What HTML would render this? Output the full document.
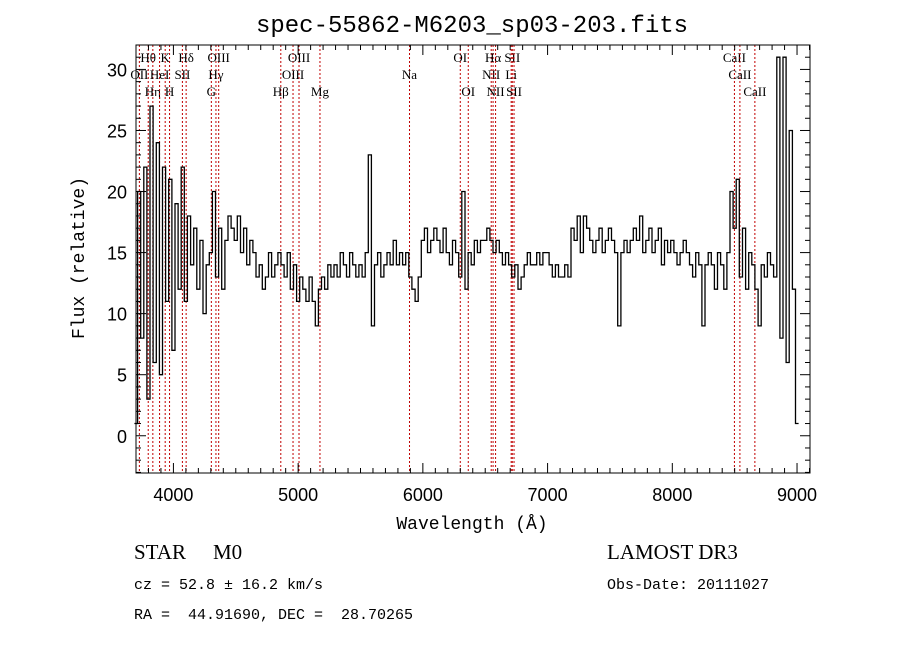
<!DOCTYPE html>
<html><head><meta charset="utf-8"><style>
body{margin:0;background:#fff;}
svg{display:block;}
</style></head><body>
<svg id="chart" width="900" height="649" xmlns="http://www.w3.org/2000/svg">
<rect width="900" height="649" fill="#fff"/>
<text x="472" y="32" font-family="Liberation Mono, monospace" font-size="24" text-anchor="middle">spec-55862-M6203_sp03-203.fits</text>
<text x="472" y="529" font-family="Liberation Mono, monospace" font-size="18" text-anchor="middle">Wavelength (Å)</text>
<text transform="translate(84,258) rotate(-90)" font-family="Liberation Mono, monospace" font-size="18" text-anchor="middle">Flux (relative)</text>
<g id="lines"></g><g id="ticks"></g>
<polyline id="spec" fill="none" stroke="#000" stroke-width="1.3"/>
<rect x="136" y="45" width="674" height="428" fill="none" stroke="#000" stroke-width="1"/>
<text x="134" y="559" font-family="Liberation Serif, serif" font-size="21">STAR</text>
<text x="213" y="559" font-family="Liberation Serif, serif" font-size="21">M0</text>
<text x="607" y="559" font-family="Liberation Serif, serif" font-size="21">LAMOST DR3</text>
<text x="134" y="589" font-family="Liberation Mono, monospace" font-size="15" xml:space="preserve">cz = 52.8 ± 16.2 km/s</text>
<text x="607" y="589" font-family="Liberation Mono, monospace" font-size="15">Obs-Date: 20111027</text>
<text x="134" y="619" font-family="Liberation Mono, monospace" font-size="15" xml:space="preserve">RA =  44.91690, DEC =  28.70265</text>
</svg>
<script>
const waveStart = 3700, waveStep = 25;
const flux = [1,20,8,22,3,27,6,24,5,22,11,21,7,19,12,22,
11,18,14,17,12,16,10,14,15,20,13,17,12,16,18,17,
16,18,15,17,14,16,15,13,14,12,13,15,13,14,15,14,
13,15,12,14,11,13,12,11,13,11,9,12,13,12,14,13,
14,13,15,14,13,15,14,13,14,13,15,23,9,14,15,13,
14,15,14,16,14,15,14,15,13,12,11,13,16,17,15,16,
17,16,15,17,15,14,16,15,13,20,12,15,14,16,15,16,
16,17,16,15,16,15,14,15,14,13,14,12,13,14,15,14,
14,15,14,15,15,14,13,14,13,13,14,13,17,16,18,15,
18,17,16,15,16,17,15,16,17,16,15,9,15,16,15,16,
17,16,18,15,16,17,15,16,17,14,16,15,16,15,14,15,
16,15,14,13,15,14,9,14,15,14,12,15,14,12,15,20,
17,21,13,17,12,15,14,12,9,14,13,15,14,13,31,8,
31,6,25,12,1];
const lineNames = ["OII","Hθ","Hη","HeI","K","H","SII","Hδ","G","Hγ","OIII","Hβ","OIII","OIII","Mg","Na","OI","OI","NII","Hα","NII","Li","SII","SII","CaII","CaII","CaII"];
const lineWaves = [3727,3798,3835,3889,3934,3969,4072,4102,4304,4341,4363,4861,4959,5007,5175,5893,6300,6364,6548,6563,6583,6708,6717,6731,8498,8542,8662];
const lineRows = [1,0,2,1,0,2,1,0,2,1,0,2,1,0,2,1,0,2,1,0,2,1,0,2,0,1,2];
const xTicks = [4000,5000,6000,7000,8000,9000];
const yTicks = [0,5,10,15,20,25,30];

const L=136,R=810,T=45,B=473, W0=3700,W1=9104, F0=-3.05,F1=32;
const X = w => L+(w-W0)/(W1-W0)*(R-L);
const Y = f => B-(f-F0)/(F1-F0)*(B-T);
const NS="http://www.w3.org/2000/svg";
function mk(tag,attrs,parent,txt){const e=document.createElementNS(NS,tag);for(const k in attrs)e.setAttribute(k,attrs[k]);if(txt!==undefined)e.textContent=txt;parent.appendChild(e);return e;}
const gl=document.getElementById('lines'), gt=document.getElementById('ticks');

// spectrum as step histogram
let pts=[];
flux.forEach((f,i)=>{
  const w=waveStart+i*waveStep;
  const y=Math.max(T,Math.min(B,Y(f))).toFixed(1);
  pts.push(X(w-waveStep/2).toFixed(1)+","+y);
  pts.push(X(w+waveStep/2).toFixed(1)+","+y);
});
document.getElementById('spec').setAttribute('points',pts.join(' '));

// lines
lineWaves.forEach((w,i)=>{
  const x=X(w);
  const ln=mk('line',{x1:x,x2:x,y1:T,y2:B,stroke:'#c00000','stroke-width':1,'stroke-dasharray':'2,2'},gl);
  
  
  const t=mk('text',{x:x,y:62+lineRows[i]*17,'font-family':'Liberation Serif, serif','font-size':13,'text-anchor':'middle'},gl,lineNames[i]);
  
  
});

// x ticks
for(let w=3800;w<=9100;w+=100){
  const major=w%1000===0, len=major?10:5, x=X(w);
  mk('line',{x1:x,x2:x,y1:B,y2:B-len,stroke:'#000'},gt);
  mk('line',{x1:x,x2:x,y1:T,y2:T+len,stroke:'#000'},gt);
}
xTicks.forEach(w=>{
  const t=mk('text',{x:X(w),y:501,'font-family':'Liberation Sans, sans-serif','font-size':18,'text-anchor':'middle'},gt,String(w));
  
  
});
// y ticks
for(let f=-3;f<=32;f++){
  const major=f%5===0, len=major?10:5, y=Y(f);
  mk('line',{x1:L,x2:L+len,y1:y,y2:y,stroke:'#000'},gt);
  mk('line',{x1:R,x2:R-len,y1:y,y2:y,stroke:'#000'},gt);
}
yTicks.forEach(f=>{
  const t=mk('text',{x:127,y:Y(f)+7,'font-family':'Liberation Sans, sans-serif','font-size':18,'text-anchor':'end'},gt,String(f));
  
  
});
</script>
</body></html>
